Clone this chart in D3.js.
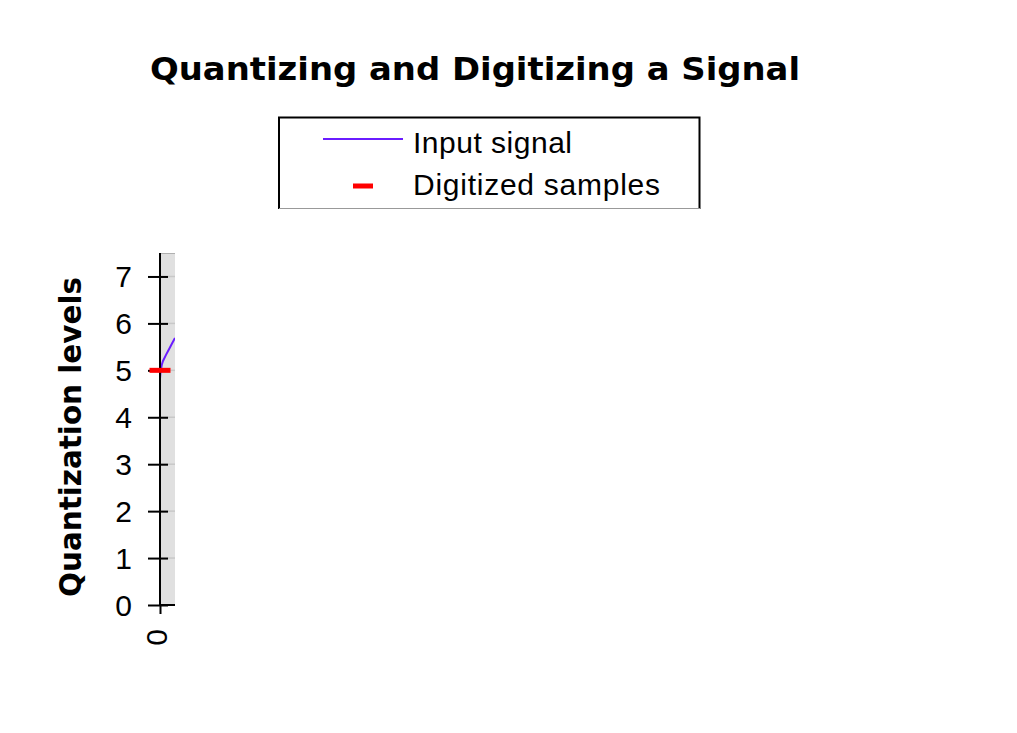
<!DOCTYPE html>
<html>
<head>
<meta charset="utf-8">
<script src="https://cdn.jsdelivr.net/npm/d3@7"></script>
<style>
  html, body { margin: 0; padding: 0; background: #fff; }
  svg { display: block; font-family: Arial, "Liberation Sans", sans-serif; }
</style>
</head>
<body>
<svg id="chart" width="1017" height="733"></svg>
<script>
// ---- data ----
const title = "Quantizing and Digitizing a Signal";
const yTitle = "Quantization levels";
const seriesNames = ["Input signal", "Digitized samples"];
const yTicks = [0, 1, 2, 3, 4, 5, 6, 7];
const xTicks = [0];
const signalTime = [0, 0.01, 0.03, 0.05, 0.1, 0.15, 0.2, 0.25];
const signalValue = [4.82, 4.98, 5.12, 5.2, 5.33, 5.45, 5.57, 5.69];
const sampleTime = [0];
const sampleValue = [5];

// ---- layout ----
const svg = d3.select("#chart");
const plot = { left: 160, right: 175, top: 253, bottom: 605 };

const x = d3.scaleLinear().domain([0, 0.25]).range([plot.left, plot.right]);
const y = d3.scaleLinear().domain([0, 7.5]).range([plot.bottom, plot.top]);

// title
svg.append("text")
  .attr("x", 150).attr("y", 80)
  .attr("textLength", 650).attr("lengthAdjust", "spacingAndGlyphs")
  .attr("font-family", "'DejaVu Sans', sans-serif")
  .attr("font-size", 32).attr("font-weight", "bold")
  .text(title);

// legend
const lg = svg.append("g");
lg.append("rect").attr("x", 279).attr("y", 117.5).attr("width", 421).attr("height", 91)
  .attr("fill", "#fff").attr("stroke", "none");
lg.append("path").attr("d", "M279,209 V117.5 H699.5 V209")
  .attr("fill", "none").attr("stroke", "#000").attr("stroke-width", 2);
lg.append("line").attr("x1", 279).attr("x2", 700).attr("y1", 208.5).attr("y2", 208.5)
  .attr("stroke", "#999").attr("stroke-width", 1);
lg.append("line").attr("x1", 323).attr("x2", 403).attr("y1", 139).attr("y2", 139)
  .attr("stroke", "#6a1cff").attr("stroke-width", 2);
lg.append("rect").attr("x", 353).attr("y", 183.5).attr("width", 20).attr("height", 5)
  .attr("fill", "#ff0000");
lg.append("text").attr("x", 413).attr("y", 153).attr("font-size", 30)
  .attr("textLength", 159).attr("lengthAdjust", "spacing").text(seriesNames[0]);
lg.append("text").attr("x", 413).attr("y", 195).attr("font-size", 30)
  .attr("textLength", 247).attr("lengthAdjust", "spacing").text(seriesNames[1]);

// plot area
svg.append("rect")
  .attr("x", plot.left).attr("y", plot.top)
  .attr("width", plot.right - plot.left).attr("height", plot.bottom - plot.top)
  .attr("fill", "#e0e0e0");
svg.append("line").attr("x1", plot.left).attr("x2", plot.right)
  .attr("y1", plot.top + 0.5).attr("y2", plot.top + 0.5)
  .attr("stroke", "#b0b0b0").attr("stroke-width", 1);

// gridlines
svg.append("g").selectAll("line").data(yTicks.filter(d => d > 0)).join("line")
  .attr("x1", plot.left).attr("x2", plot.right)
  .attr("y1", d => y(d)).attr("y2", d => y(d))
  .attr("stroke", "#c8c8c8").attr("stroke-width", 1.5);

// clip
svg.append("clipPath").attr("id", "clip").append("rect")
  .attr("x", plot.left).attr("y", plot.top)
  .attr("width", plot.right - plot.left).attr("height", plot.bottom - plot.top);

// signal line
const line = d3.line().x((d, i) => x(signalTime[i])).y(d => y(d));
svg.append("path")
  .attr("clip-path", "url(#clip)")
  .attr("d", line(signalValue))
  .attr("fill", "none").attr("stroke", "#6a1cff").attr("stroke-width", 2);

// y axis
const yAxis = d3.axisLeft(y).tickValues(yTicks).tickSize(0).tickFormat(d3.format("d"));
const yg = svg.append("g").attr("transform", `translate(${plot.left},0)`).call(yAxis);
yg.select(".domain").remove();
yg.selectAll(".tick text").attr("font-size", 30).attr("fill", "#000")
  .attr("font-family", "Arial, 'Liberation Sans', sans-serif")
  .attr("x", -28).attr("dy", null).attr("y", 10.5).attr("text-anchor", "end");
yg.selectAll(".tick").append("line")
  .attr("x1", -12).attr("x2", 8).attr("stroke", "#000").attr("stroke-width", 2);
svg.append("line").attr("x1", plot.left).attr("x2", plot.left)
  .attr("y1", plot.top).attr("y2", plot.bottom)
  .attr("stroke", "#000").attr("stroke-width", 2);

// x axis
const xAxis = d3.axisBottom(x).tickValues(xTicks).tickSize(0).tickFormat(d3.format("d"));
const xg = svg.append("g").attr("transform", `translate(0,${plot.bottom})`).call(xAxis);
xg.select(".domain").remove();
xg.selectAll(".tick").append("line")
  .attr("y1", 0).attr("y2", 9).attr("stroke", "#000").attr("stroke-width", 2);
xg.selectAll(".tick text").attr("font-size", 30).attr("fill", "#000")
  .attr("font-family", "Arial, 'Liberation Sans', sans-serif")
  .attr("y", 0).attr("dy", null)
  .attr("text-anchor", "end")
  .attr("transform", "translate(6,24) rotate(-90)");
svg.append("line").attr("x1", plot.left).attr("x2", plot.right)
  .attr("y1", plot.bottom).attr("y2", plot.bottom)
  .attr("stroke", "#000").attr("stroke-width", 2);

// samples
svg.append("g").selectAll("rect").data(sampleValue).join("rect")
  .attr("x", (d, i) => x(sampleTime[i]) - 10.5)
  .attr("y", d => y(d) - 2.5)
  .attr("width", 21).attr("height", 5)
  .attr("fill", "#ff0000");

// y title
svg.append("text")
  .attr("transform", "translate(81,437) rotate(-90)")
  .attr("text-anchor", "middle")
  .attr("textLength", 320).attr("lengthAdjust", "spacingAndGlyphs")
  .attr("font-family", "'DejaVu Sans', sans-serif")
  .attr("font-size", 30).attr("font-weight", "bold")
  .text(yTitle);
</script>
</body>
</html>
